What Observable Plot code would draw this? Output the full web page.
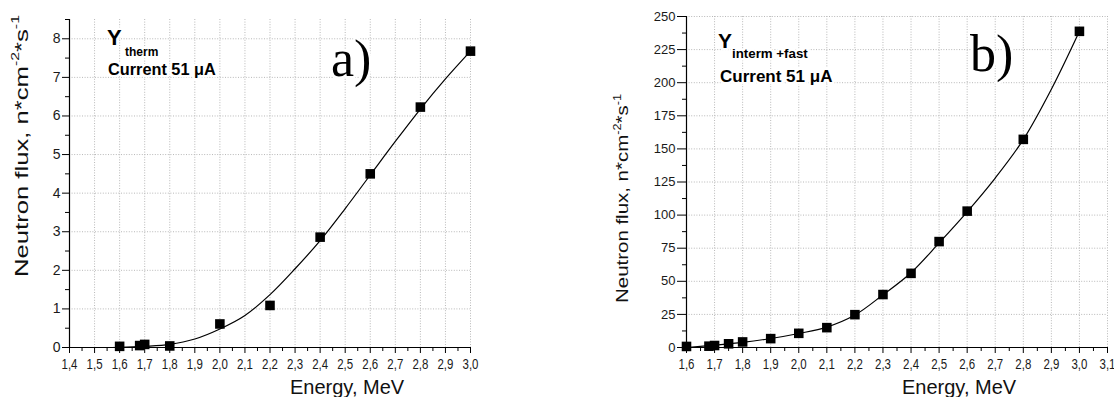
<!DOCTYPE html>
<html><head><meta charset="utf-8">
<script src="https://cdn.jsdelivr.net/npm/d3@7"></script>
<script src="https://cdn.jsdelivr.net/npm/@observablehq/plot@0.6"></script>
<style>
html,body{margin:0;padding:0;background:#fff;}
#wrap{position:relative;width:1114px;height:397px;overflow:hidden;background:#fff;}
#wrap svg{position:absolute;top:0;}
</style></head><body><div id="wrap"></div>
<script>
// ---- panel a) : thermal neutrons ----
const energyA = [1.6, 1.68, 1.7, 1.8, 2.0, 2.2, 2.4, 2.6, 2.8, 3.0];
const fluxA   = [0.03, 0.05, 0.08, 0.04, 0.61, 1.09, 2.86, 4.50, 6.23, 7.68];
const fitEnergyA = [1.53, 1.6, 1.7, 1.8, 1.9, 2.0, 2.1, 2.2, 2.3, 2.4, 2.5, 2.6, 2.7, 2.8, 2.9, 3.0];
const fitFluxA   = [0, 0.005, 0.03, 0.08, 0.22, 0.48, 0.83, 1.37, 2.04, 2.77, 3.60, 4.47, 5.34, 6.18, 6.96, 7.68];
const xTicksA = [1.4, 1.5, 1.6, 1.7, 1.8, 1.9, 2.0, 2.1, 2.2, 2.3, 2.4, 2.5, 2.6, 2.7, 2.8, 2.9, 3.0];
const yTicksA = [0, 1, 2, 3, 4, 5, 6, 7, 8];

// ---- panel b) : intermediate + fast neutrons ----
const energyB = [1.6, 1.68, 1.7, 1.75, 1.8, 1.9, 2.0, 2.1, 2.2, 2.3, 2.4, 2.5, 2.6, 2.8, 3.0];
const fluxB   = [0.8, 1.0, 1.5, 2.8, 4.2, 6.7, 10.7, 15.0, 24.8, 40.0, 56.0, 80.0, 103.0, 157.2, 238.8];
const fitEnergyB = [1.6, 1.7, 1.8, 1.9, 2.0, 2.1, 2.2, 2.3, 2.4, 2.5, 2.6, 2.7, 2.8, 2.9, 3.0];
const fitFluxB   = [0, 1.8, 3.9, 6.8, 10.6, 15.4, 24.5, 39.8, 56.5, 79.0, 102.5, 128.0, 157.0, 195.0, 238.8];
const xTicksB = [1.6, 1.7, 1.8, 1.9, 2.0, 2.1, 2.2, 2.3, 2.4, 2.5, 2.6, 2.7, 2.8, 2.9, 3.0, 3.1];
const yTicksB = [0, 25, 50, 75, 100, 125, 150, 175, 200, 225, 250];

const FONT = "'Liberation Sans', Arial, sans-serif";
const fmtComma = d => d.toFixed(1).replace(".", ",");
const mids = t => t.slice(1).map((v, i) => (v + t[i]) / 2);

function panel(c) {
  const pts = c.ex.map((e, i) => ({e, f: c.fx[i]}));
  const fit = c.fe.map((e, i) => ({e, f: c.ff[i]}));
  const yMinor = mids(c.yT).concat(c.yExtraMinor || []);
  const svg = Plot.plot({
    width: c.width, height: 397,
    marginLeft: c.ml, marginRight: c.mr, marginTop: c.mt, marginBottom: 50,
    x: {domain: c.xDomain},
    y: {domain: c.yDomain},
    style: {fontFamily: FONT, fontSize: "13px", color: "#1a1a1a", background: "transparent", overflow: "visible"},
    marks: [
      Plot.gridX(c.xT.slice(1), {stroke: "#b8b8b8", strokeOpacity: 1, strokeDasharray: "1,1.6"}),
      Plot.gridY(c.yT.slice(1), {stroke: "#b8b8b8", strokeOpacity: 1, strokeDasharray: "1,1.6"}),
      Plot.axisX(mids(c.xT), {tickSize: 4, tickFormat: () => "", label: null, stroke: "#000"}),
      Plot.axisX(c.xT, {tickSize: 6, tickPadding: 6, tickFormat: fmtComma, label: null, stroke: "#000", fontSize: 14}),
      Plot.axisY(yMinor, {tickSize: 4, tickFormat: () => "", label: null, stroke: "#000"}),
      Plot.axisY(c.yT, {tickSize: c.yTick, tickPadding: 2, label: null, stroke: "#000", fontSize: c.yFont}),
      Plot.ruleY([c.yDomain[0]], {stroke: "#000", strokeWidth: 1.2}),
      Plot.ruleX([c.xDomain[0]], {stroke: "#000", strokeWidth: 1.2}),
      Plot.line(fit, {x: "e", y: "f", curve: "catmull-rom", stroke: "#000", strokeWidth: 1.2}),
      Plot.dot(pts, {x: "e", y: "f", symbol: "square", r: 5.4, fill: "#000", stroke: null})
    ]
  });
  svg.style.left = c.left + "px";
  const s = d3.select(svg);
  // narrow the x tick labels a little, like the reference
  s.selectAll('g[aria-label="x-axis tick label"] text').each(function() {
    const tr = this.getAttribute("transform");
    if (tr) this.setAttribute("transform", tr + " scale(0.82,1)");
  });
  // y axis title with superscripts
  const yl = s.append("text")
    .attr("text-anchor", "start")
    .attr("transform", `translate(${c.yl.x},${c.yl.y}) rotate(-90)`)
    .attr("font-family", FONT).attr("font-size", c.yl.size).attr("fill", "#111")
    .attr("textLength", c.yl.len).attr("lengthAdjust", "spacingAndGlyphs");
  yl.append("tspan").text("Neutron flux, n*cm");
  yl.append("tspan").attr("font-size", c.yl.size * 0.62).attr("dy", -c.yl.size * 0.45).text("-2");
  yl.append("tspan").attr("dy", c.yl.size * 0.45).text("*s");
  yl.append("tspan").attr("font-size", c.yl.size * 0.62).attr("dy", -c.yl.size * 0.45).text("-1");
  // x axis title
  s.append("text").attr("text-anchor", "start").attr("x", c.xl.x).attr("y", c.xl.y)
    .attr("font-family", FONT).attr("font-size", 20).attr("fill", "#111").text("Energy, MeV");
  // annotations
  const halo = sel => sel.attr("stroke", "#fff").attr("stroke-width", 5).attr("paint-order", "stroke").attr("stroke-linejoin", "round");
  const g = s.append("g").attr("text-anchor", "start").attr("font-family", FONT).attr("font-weight", "bold").attr("fill", "#000");
  halo(g.append("text").attr("x", c.ann.yx).attr("y", c.ann.yy).attr("font-size", c.ann.ys).text("Y"));
  halo(g.append("text").attr("x", c.ann.sx).attr("y", c.ann.sy).attr("font-size", c.ann.ss).text(c.ann.sub));
  halo(g.append("text").attr("x", c.ann.cx).attr("y", c.ann.cy).attr("font-size", c.ann.cs).text("Current 51 \u03bcA"));
  halo(s.append("text").attr("text-anchor", "start").attr("x", c.ann.lx).attr("y", c.ann.ly)
    .attr("font-family", "'Liberation Serif', 'Times New Roman', serif").attr("font-size", 52).attr("fill", "#000").text(c.ann.label));
  return svg;
}

const wrap = document.getElementById("wrap");
wrap.appendChild(panel({
  ex: energyA, fx: fluxA, fe: fitEnergyA, ff: fitFluxA, xT: xTicksA, yT: yTicksA, yExtraMinor: [8.5],
  width: 490, left: 0, ml: 69, mr: 20, mt: 19,
  xDomain: [1.4, 3.0], yDomain: [0, 8.5], yTick: 7, yFont: 14,
  yl: {x: 27.5, y: 277, size: 18.6, len: 262},
  xl: {x: 290, y: 394},
  ann: {yx: 107, yy: 45, ys: 22, sx: 125, sy: 55.5, ss: 12, sub: "therm", cx: 108, cy: 75, cs: 16.3, lx: 331, ly: 76, label: "a)"}
}));
wrap.appendChild(panel({
  ex: energyB, fx: fluxB, fe: fitEnergyB, ff: fitFluxB, xT: xTicksB, yT: yTicksB,
  width: 554, left: 560, ml: 126, mr: 7, mt: 16,
  xDomain: [1.6, 3.1], yDomain: [0, 250], yTick: 9, yFont: 13,
  yl: {x: 68, y: 303, size: 16.3, len: 209},
  xl: {x: 342, y: 394},
  ann: {yx: 158, yy: 48, ys: 21, sx: 172, sy: 58.3, ss: 13.3, sub: "interm +fast", cx: 160, cy: 82, cs: 17, lx: 410, ly: 71, label: "b)"}
}));
</script></body></html>
